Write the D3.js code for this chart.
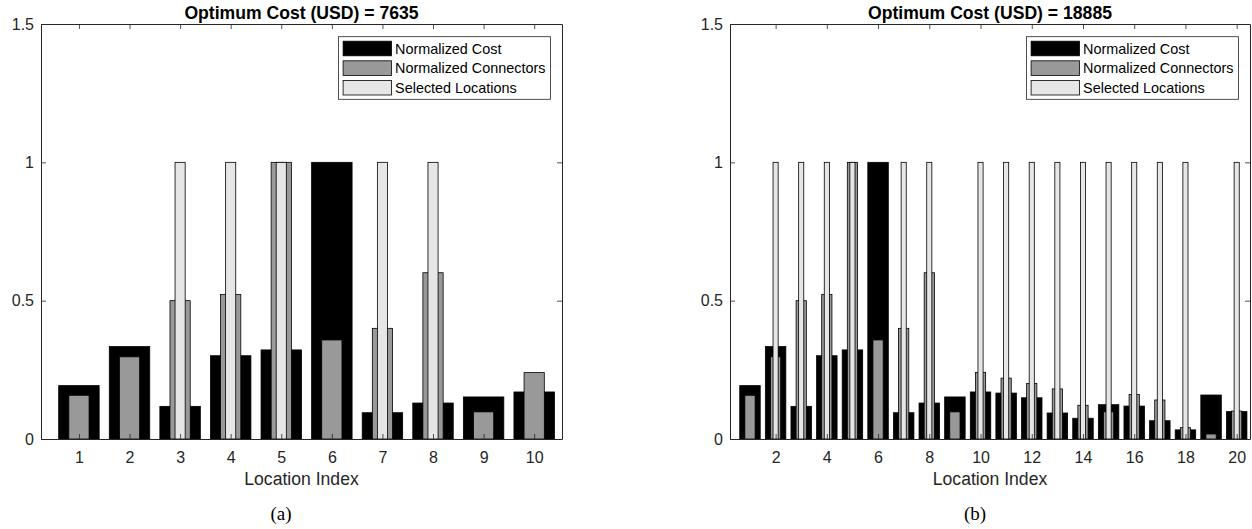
<!DOCTYPE html>
<html><head><meta charset="utf-8">
<script src="https://cdn.jsdelivr.net/npm/d3@7"></script>
<style>
html,body{margin:0;padding:0;background:#fff;}
svg{display:block;font-family:"Liberation Sans",Arial,Helvetica,sans-serif;}
</style></head>
<body>
<svg id="chart" width="1252" height="529"></svg>
<script>
// ---- data ----
const seriesNames = ["Normalized Cost", "Normalized Connectors", "Selected Locations"];
const yTicks = [0, 0.5, 1, 1.5];

const locationsA = [1,2,3,4,5,6,7,8,9,10];
const costA       = [0.193,0.334,0.118,0.301,0.322,1.0,0.095,0.130,0.152,0.170];
const connectorsA = [0.158,0.297,0.500,0.522,1.0,0.358,0.400,0.601,0.098,0.240];
const selectedA   = [0,0,1,1,1,0,1,1,0,0];
const xTicksA = [1,2,3,4,5,6,7,8,9,10];
const titleA = "Optimum Cost (USD) = 7635";
const captionA = "(a)";

const locationsB = [1,2,3,4,5,6,7,8,9,10,11,12,13,14,15,16,17,18,19,20];
const costB       = [0.193,0.334,0.118,0.301,0.322,1.0,0.095,0.130,0.152,0.170,0.166,0.149,0.094,0.075,0.124,0.119,0.066,0.033,0.159,0.099];
const connectorsB = [0.158,0.297,0.500,0.522,1.0,0.358,0.400,0.601,0.098,0.241,0.220,0.201,0.181,0.122,0.098,0.161,0.141,0.041,0.018,0.101];
const selectedB   = [0,1,1,1,1,0,1,1,0,1,1,1,1,1,1,1,1,1,0,1];
const xTicksB = [2,4,6,8,10,12,14,16,18,20];
const titleB = "Optimum Cost (USD) = 18885";
const captionB = "(b)";

// ---- style ----
const fills = ["#000000", "#999999", "#e6e6e6"];
const widths = [0.8, 0.4, 0.2];
const axisColor = "#262626";

const svg = d3.select("#chart");

function panel(cfg) {
  const {left, right, top, bottom, xDomain, locs, series, xTicks, title, caption, captionX} = cfg;
  const x = d3.scaleLinear().domain(xDomain).range([left, right]);
  const y = d3.scaleLinear().domain([0, 1.5]).range([bottom, top]);
  const g = svg.append("g");

  // bars
  series.forEach((vals, si) => {
    const data = locs.map((l, i) => ({l, v: vals[i]})).filter(d => d.v > 0);
    g.append("g").selectAll("rect").data(data).join("rect")
      .attr("x", d => x(d.l - widths[si] / 2))
      .attr("width", d => x(d.l + widths[si] / 2) - x(d.l - widths[si] / 2))
      .attr("y", d => y(d.v))
      .attr("height", d => y(0) - y(d.v))
      .attr("fill", fills[si])
      .attr("stroke", "#000")
      .attr("stroke-width", 0.8);
  });

  const tickLen = 5;
  // bottom axis
  const ax = g.append("g").attr("transform", `translate(0,${bottom})`)
    .call(d3.axisBottom(x).tickValues(xTicks).tickFormat(d3.format("d")).tickSizeInner(-tickLen).tickSizeOuter(0).tickPadding(13));
  // top axis
  const axT = g.append("g").attr("transform", `translate(0,${top})`)
    .call(d3.axisTop(x).tickValues(xTicks).tickFormat("").tickSizeInner(-tickLen).tickSizeOuter(0));
  // left axis
  const ay = g.append("g").attr("transform", `translate(${left},0)`)
    .call(d3.axisLeft(y).tickValues(yTicks).tickFormat(d => d3.format("~g")(d)).tickSizeInner(-tickLen).tickSizeOuter(0).tickPadding(7));
  // right axis
  const ayR = g.append("g").attr("transform", `translate(${right},0)`)
    .call(d3.axisRight(y).tickValues(yTicks).tickFormat("").tickSizeInner(-tickLen).tickSizeOuter(0));

  [ax, axT, ay, ayR].forEach(a => {
    a.selectAll("path.domain").attr("stroke", axisColor).attr("stroke-width", 1);
    a.selectAll(".tick line").attr("stroke", axisColor).attr("stroke-width", 0.8);
    a.selectAll(".tick text").attr("fill", axisColor).attr("font-size", 16)
      .attr("font-family", "Liberation Sans, Arial, sans-serif");
  });

  // title
  g.append("text").attr("x", (left + right) / 2).attr("y", 19)
    .attr("text-anchor", "middle").attr("font-weight", "bold").attr("font-size", 17.6)
    .attr("fill", "#000").text(title);
  // x label
  g.append("text").attr("x", (left + right) / 2).attr("y", 485)
    .attr("text-anchor", "middle").attr("font-size", 17.6)
    .attr("fill", axisColor).text("Location Index");
  // caption
  g.append("text").attr("x", captionX).attr("y", 520)
    .attr("text-anchor", "middle").attr("font-size", 19)
    .attr("font-family", "Liberation Serif, Times New Roman, serif")
    .attr("fill", "#000").text(caption);

  // legend
  const lw = 212, lh = 62.6;
  const lx = right - 11.5 - lw, ly = 36.7;
  const lg = g.append("g");
  lg.append("rect").attr("x", lx).attr("y", ly).attr("width", lw).attr("height", lh)
    .attr("fill", "#fff").attr("stroke", axisColor).attr("stroke-width", 0.8);
  seriesNames.forEach((name, i) => {
    const cy = ly + 11.8 + i * 19.6;
    lg.append("rect").attr("x", lx + 4.6).attr("y", cy - 7.3).attr("width", 48.4).attr("height", 14.6)
      .attr("fill", fills[i]).attr("stroke", "#000").attr("stroke-width", 0.8);
    lg.append("text").attr("x", lx + 56.6).attr("y", cy).attr("dy", "0.35em")
      .attr("font-size", 14.4).attr("fill", "#000").text(name);
  });
}

panel({left: 41, right: 562, top: 24, bottom: 439, xDomain: [0.25, 10.55],
  locs: locationsA, series: [costA, connectorsA, selectedA], xTicks: xTicksA,
  title: titleA, caption: captionA, captionX: 281});
panel({left: 730, right: 1250, top: 24, bottom: 439, xDomain: [0.22, 20.52],
  locs: locationsB, series: [costB, connectorsB, selectedB], xTicks: xTicksB,
  title: titleB, caption: captionB, captionX: 975});
</script>
</body></html>
